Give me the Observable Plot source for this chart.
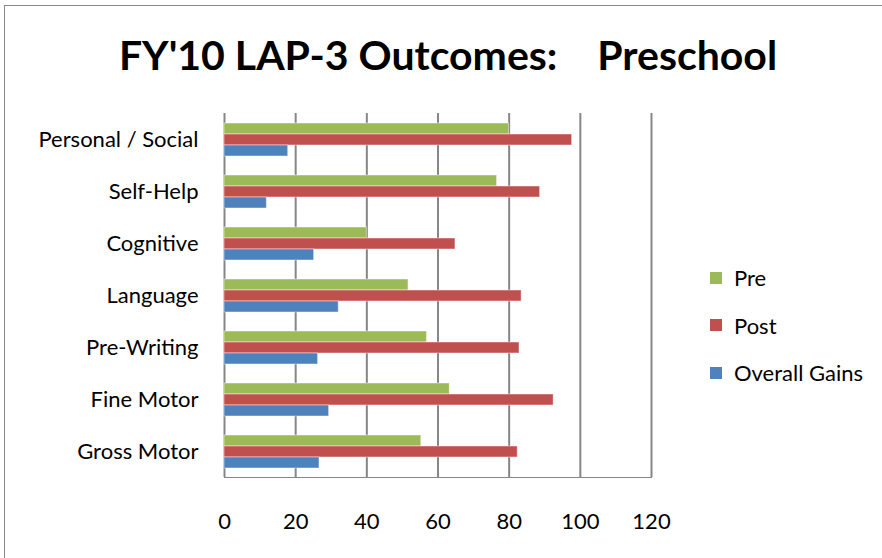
<!DOCTYPE html>
<html>
<head>
<meta charset="utf-8">
<script src="https://cdn.jsdelivr.net/npm/d3@7"></script>
<script src="https://cdn.jsdelivr.net/npm/@observablehq/plot@0.6"></script>
<style>
  html, body { margin: 0; padding: 0; background: #fff; }
  #wrap { position: relative; width: 882px; height: 558px; overflow: hidden; font-family: Lato, "Open Sans", sans-serif; }
  #border { position: absolute; left: 4px; top: 5px; right: -10px; bottom: -10px; border-left: 1.5px solid #8a8a8a; border-top: 1.5px solid #8a8a8a; }
  #title { position: absolute; left: 0; width: 896px; top: 30px; text-align: center; font-size: 41px; line-height: 50px; font-weight: bold; white-space: pre; color: #000; }
  #chart { position: absolute; left: 0; top: 0; }
  #chart svg { color: #868686; }
  #chart svg text { fill: #000; }
  #legend { position: absolute; left: 710px; top: 254px; font-size: 22px; color: #000; }
  .item { display: flex; align-items: center; height: 47.5px; }
  .sw { width: 12px; height: 12px; margin-right: 12px; }
</style>
</head>
<body>
<div id="wrap">
  <div id="border"></div>
  <div id="title"></div>
  <div id="chart"></div>
  <div id="legend"></div>
</div>
<script>
const titleText = "FY'10 LAP-3 Outcomes:    Preschool";
const categories = ["Personal / Social", "Self-Help", "Cognitive", "Language", "Pre-Writing", "Fine Motor", "Gross Motor"];
const series = ["Pre", "Post", "Overall Gains"];
const colors = ["#9BBB59", "#C0504D", "#4F81BD"];
const preValues = [80, 76.6, 40, 51.7, 56.9, 63.3, 55.3];
const postValues = [97.7, 88.7, 64.9, 83.5, 82.9, 92.5, 82.4];
const gainValues = [17.9, 11.9, 25.2, 32.1, 26.3, 29.4, 26.7];
const xTicks = [0, 20, 40, 60, 80, 100, 120];

const seriesValues = [preValues, postValues, gainValues];
const rows = [];
categories.forEach((c, i) => {
  series.forEach((s, j) => rows.push({category: c, series: s, value: seriesValues[j][i]}));
});

document.getElementById("title").textContent = titleText;

const chart = Plot.plot({
  width: 882,
  height: 558,
  marginLeft: 224,
  marginRight: 231,
  marginTop: 113,
  marginBottom: 81,
  style: {fontFamily: "Lato, 'Open Sans', sans-serif", fontSize: "22px", background: "transparent", overflow: "visible"},
  x: {domain: [0, 120], ticks: xTicks, tickSize: 0, tickPadding: 36, label: null, line: true},
  fy: {domain: categories, padding: 0, label: null, tickSize: 0, tickPadding: 26},
  y: {domain: series, paddingInner: 0, paddingOuter: 0.73, axis: null},
  color: {domain: series, range: colors},
  facet: {data: rows, y: "category", marginRight: 0},
  marks: [
    Plot.ruleX(xTicks, {stroke: "#868686", strokeWidth: 2}),
    Plot.barX(rows, {x: "value", y: "series", fill: "series", stroke: "#ffffff", strokeOpacity: 0.45, strokeWidth: 1})
  ]
});
document.getElementById("chart").appendChild(chart);

const legend = document.getElementById("legend");
series.forEach((s, j) => {
  const it = document.createElement("div");
  it.className = "item";
  const sw = document.createElement("div");
  sw.className = "sw";
  sw.style.background = colors[j];
  const t = document.createElement("span");
  t.textContent = s;
  it.appendChild(sw); it.appendChild(t);
  legend.appendChild(it);
});
</script>
</body>
</html>
